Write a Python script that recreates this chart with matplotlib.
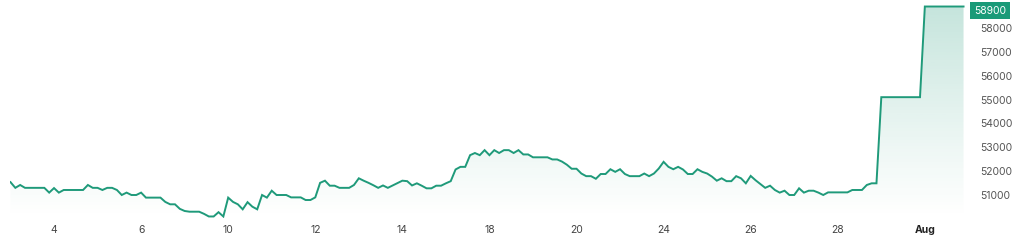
import numpy as np
import matplotlib
matplotlib.use("Agg")
import matplotlib.pyplot as plt
from matplotlib.patches import Polygon

plt.rcParams["font.family"] = ["Inter", "DejaVu Sans"]

# trading-day sampled prices (9 samples per trading day)
prices = [
    51540, 51300, 51420, 51300, 51300, 51300, 51300, 51300, 51100, 51290,
    51100, 51210, 51210, 51210, 51210, 51210, 51420, 51300, 51300, 51210,
    51300, 51300, 51210, 51000, 51100, 51000, 51000, 51100, 50890, 50890,
    50890, 50890, 50710, 50610, 50610, 50420, 50330, 50300, 50300, 50300,
    50210, 50100, 50100, 50280, 50100, 50890, 50710, 50610, 50400, 50700,
    50510, 50400, 51000, 50890, 51180, 51000, 51000, 51000, 50900, 50900,
    50900, 50790, 50790, 50900, 51510, 51600, 51390, 51390, 51300, 51300,
    51300, 51420, 51700, 51600, 51510, 51410, 51300, 51400, 51300, 51400,
    51500, 51600, 51580, 51400, 51490, 51390, 51280, 51280, 51390, 51390,
    51490, 51580, 52070, 52180, 52180, 52670, 52760, 52670, 52880, 52670,
    52880, 52760, 52880, 52880, 52760, 52880, 52700, 52700, 52580, 52580,
    52580, 52580, 52490, 52490, 52400, 52270, 52100, 52100, 51900, 51790,
    51790, 51680, 51880, 51880, 52080, 51970, 52080, 51880, 51790, 51790,
    51790, 51900, 51790, 51900, 52110, 52390, 52180, 52080, 52180, 52070,
    51880, 51880, 52080, 51970, 51900, 51770, 51600, 51700, 51580, 51580,
    51790, 51700, 51490, 51800, 51620, 51460, 51300, 51390, 51210, 51100,
    51180, 51000, 51000, 51280, 51100, 51180, 51180, 51100, 51000, 51110,
    51110, 51110, 51110, 51110, 51210, 51210, 51210, 51420, 51490, 51490,
    55100, 55100, 55100, 55100, 55100, 55100, 55100, 55100, 55100, 58900,
    58900, 58900, 58900, 58900, 58900, 58900, 58900, 58900,
]
x_labels = ["4", "6", "10", "12", "14", "18", "20", "24", "26", "28", "Aug"]
y_ticks = [51000, 52000, 53000, 54000, 55000, 56000, 57000, 58000]
last_price = 58900

LINE = "#1f9a7a"
W, H = 1020, 243
fig = plt.figure(figsize=(W / 100, H / 100), dpi=100)
ax = fig.add_axes([10 / W, (H - 218) / H, (965 - 10) / W, 218 / H])

x = np.arange(len(prices))
ymin, ymax = 50036, 59173
xmin, xmax = -0.1, 197.3
ax.set_xlim(xmin, xmax)
ax.set_ylim(ymin, ymax)

# gradient fill under the line
g = np.linspace(1, 0, 256)
rgba = np.zeros((256, 1, 4))
c = matplotlib.colors.to_rgb("#2a9d7f")
rgba[:, 0, 0], rgba[:, 0, 1], rgba[:, 0, 2] = c
rgba[:, 0, 3] = 0.28 * g ** 1.1
im = ax.imshow(rgba, aspect="auto", extent=[xmin, xmax, ymin, ymax], origin="upper", zorder=1)
verts = np.column_stack([np.r_[x[0], x, x[-1]], np.r_[ymin, prices, ymin]])
poly = Polygon(verts, closed=True, facecolor="none", edgecolor="none")
ax.add_patch(poly)
im.set_clip_path(poly)

ax.plot(x, prices, color=LINE, lw=1.4, zorder=3, solid_joinstyle="miter")

for s in ax.spines.values():
    s.set_visible(False)

tick_pos = [9 + 18 * k for k in range(len(x_labels))]
ax.set_xticks(tick_pos)
ax.set_xticklabels(x_labels)
ax.tick_params(axis="x", length=0, pad=5, labelsize=7.5, labelcolor="#444444")
for lab in ax.get_xticklabels():
    if lab.get_text() == "Aug":
        lab.set_fontweight("bold")
        lab.set_color("#222222")

ax.yaxis.tick_right()
ax.set_yticks(y_ticks)
ax.set_yticklabels([str(v) for v in y_ticks])
ax.tick_params(axis="y", length=0, pad=11, labelsize=7.5, labelcolor="#555555")

ax.annotate(str(last_price), xy=(1.0, last_price), xycoords=ax.get_yaxis_transform(),
            xytext=(9, -4), textcoords="offset pixels",
            ha="left", va="center", fontsize=7.5, color="white",
            bbox=dict(boxstyle="square,pad=0.35", facecolor="#1a9a78", edgecolor="none"))

fig.savefig("out.png", dpi=100)
